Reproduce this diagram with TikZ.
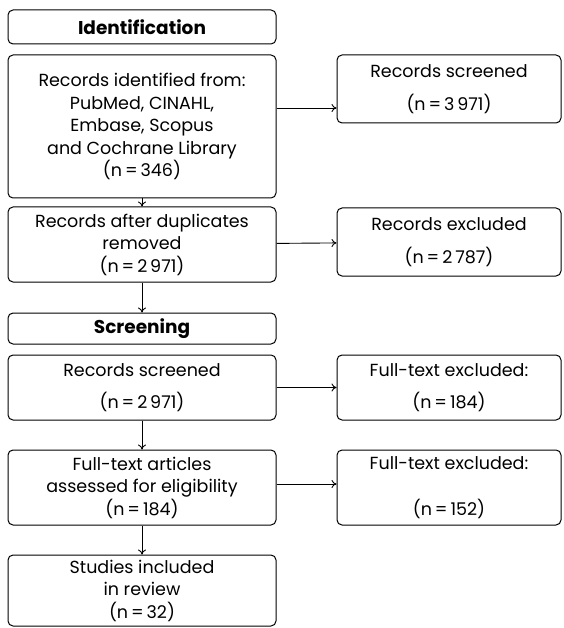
\documentclass[tikz,border=0pt]{standalone}
\usepackage{fontspec}
\setmainfont{Poppins}
\usetikzlibrary{arrows.meta}
\begin{document}
\begin{tikzpicture}[x=1pt, y=-1pt,
    boxStyle/.style={draw, rounded corners=5pt, line width=1pt, align=center, inner sep=0pt},
    leftBox/.style={boxStyle, minimum width=268pt, font=\fontsize{17.5}{22.5}\selectfont},
    rightBox/.style={boxStyle, minimum width=224pt, font=\fontsize{17.5}{22.5}\selectfont},
    headBox/.style={boxStyle, minimum width=268pt, font=\fontsize{18.5}{22.5}\selectfont\bfseries},
    arrowStyle/.style={-{To[length=5pt,width=8pt]}, line width=0.9pt}]
  \useasboundingbox (0,0) rectangle (563,628);

  \node[headBox, minimum height=34pt](ident) at (142,27) {Identification};
  \node[leftBox, minimum height=143pt](rec) at (142,126.5) {Records identified from:\\PubMed, CINAHL,\\Embase, Scopus\\and Cochrane Library\\(n\,=\,346)};
  \node[leftBox, minimum height=75pt](dup) at (142,244.5) {Records after duplicates\\removed\\(n\,=\,2\,971)};
  \node[headBox, minimum height=31pt](screen) at (142,328.5) {Screening};
  \node[leftBox, minimum height=65pt](recscr) at (142,387.5) {Records screened\\[9pt](n\,=\,2\,971)};
  \node[leftBox, minimum height=75pt](full) at (142,487.5) {Full-text articles\\assessed for eligibility\\(n\,=\,184)};
  \node[leftBox, minimum height=71pt](incl) at (142,590.5) {Studies included\\in review\\(n\,=\,32)};

  \node[rightBox, minimum height=68pt](scr) at (449,89) {Records screened\\[10pt](n\,=\,3\,971)};
  \node[rightBox, minimum height=68pt](excl) at (449,242) {Records excluded\\[10pt](n\,=\,2\,787)};
  \node[rightBox, minimum height=65pt](ftex1) at (449,387.5) {Full-text excluded:\\[9pt](n\,=\,184)};
  \node[rightBox, minimum height=75pt](ftex2) at (449,487.5) {Full-text excluded:\\[23pt](n\,=\,152)};

  \draw[arrowStyle] (rec) -- (dup);
  \draw[arrowStyle] (dup) -- (screen);
  \draw[arrowStyle] (recscr) -- (full);
  \draw[arrowStyle] (full) -- (incl);

  \draw[arrowStyle] ([yshift=18.5pt]rec.east) -- ([yshift=18.5pt]rec.east -| scr.west);
  \draw[arrowStyle] (dup) -- (excl);
  \draw[arrowStyle] (recscr) -- (ftex1);
  \draw[arrowStyle] ([yshift=3.5pt]full.east) -- ([yshift=3.5pt]full.east -| ftex2.west);
\end{tikzpicture}
\end{document}
